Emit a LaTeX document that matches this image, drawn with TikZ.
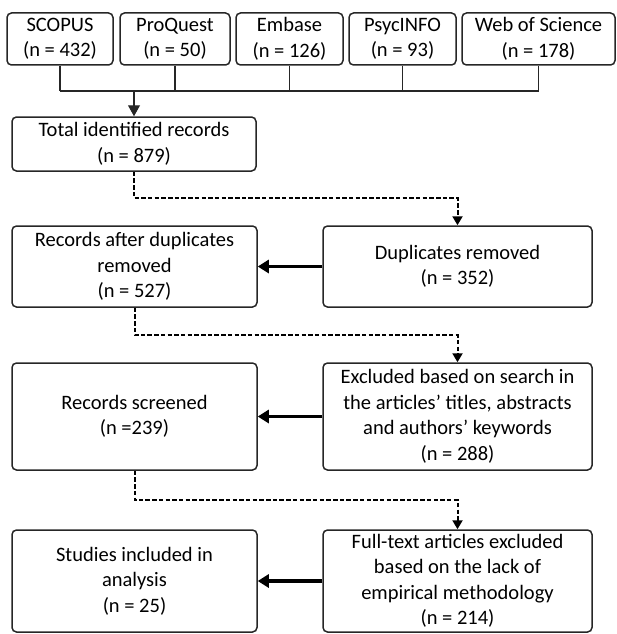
\documentclass[tikz,border=0pt]{standalone}
\usepackage{fontspec}
\setmainfont{Carlito}
\usetikzlibrary{arrows.meta}
\begin{document}
\begin{tikzpicture}[x=1pt,y=1pt,
  box/.style={draw=black!85, line width=1.5pt, rounded corners=4.5pt, align=center,
    inner sep=0pt, font=\fontsize{20.5}{25.5}\selectfont, text=black},
  thin/.style={draw=black!85, line width=1.1pt},
  dashconn/.style={draw=black, line width=2pt, dash pattern=on 4.5pt off 2.2pt,
    -{Triangle[length=9pt,width=10pt]}},
  thickarrow/.style={draw=black, line width=3.8pt, -{Triangle[length=11pt,width=13pt]}}
]
\useasboundingbox (0,0) rectangle (616,-634);
% top row
\node[box, minimum width=106, minimum height=52] (scopus) at (60,-39) {SCOPUS\\(n = 432)};
\node[box, minimum width=110, minimum height=52] (proquest) at (175,-39) {ProQuest\\(n = 50)};
\node[box, minimum width=107, minimum height=52] (embase) at (289.5,-39) {Embase\\(n = 126)};
\node[box, minimum width=107, minimum height=52] (psyc) at (402.5,-39) {PsycINFO\\(n = 93)};
\node[box, minimum width=153, minimum height=52] (wos) at (538.5,-39) {Web of Science\\(n = 178)};
% flow
\node[box, minimum width=244, minimum height=54] (total) at (134,-144) {Total identified records\\(n = 879)};
\node[box, minimum width=245, minimum height=81] (recdup) at (134.5,-266.5) {Records after duplicates\\removed\\(n = 527)};
\node[box, minimum width=269, minimum height=81] (dup) at (457.5,-266.5) {Duplicates removed\\(n = 352)};
\node[box, minimum width=245, minimum height=107] (screened) at (134.5,-416.5) {Records screened\\(n =239)};
\node[box, minimum width=269, minimum height=107] (excl) at (457.5,-416.5) {Excluded based on search in\\the articles’ titles, abstracts\\and authors’ keywords\\(n = 288)};
\node[box, minimum width=245, minimum height=102] (studies) at (134.5,-581) {Studies included in\\analysis\\(n = 25)};
\node[box, minimum width=269, minimum height=102] (full) at (457.5,-581) {Full-text articles excluded\\based on the lack of\\empirical methodology\\(n = 214)};
% bus
\coordinate (busL) at (60,-91);
\coordinate (busR) at (538.5,-91);
\draw[thin] (scopus.south) -- (scopus.south |- busL);
\draw[thin] (proquest.south) -- (proquest.south |- busL);
\draw[thin] (embase.south) -- (embase.south |- busL);
\draw[thin] (psyc.south) -- (psyc.south |- busL);
\draw[thin] (wos.south) -- (wos.south |- busL);
\draw[thin] (busL) -- (busR);
\draw[thin, -{Triangle[length=11pt,width=12pt]}] (total.north |- busL) -- (total.north);
% dashed connectors
\coordinate (m1) at (300,-198);
\coordinate (m2) at (300,-335);
\coordinate (m3) at (300,-500);
\draw[dashconn] (total.south) -- (total.south |- m1) -| (dup.north);
\draw[dashconn] (recdup.south) -- (recdup.south |- m2) -| (excl.north);
\draw[dashconn] (screened.south) -- (screened.south |- m3) -| (full.north);
% thick arrows
\draw[thickarrow] (dup.west) -- (recdup.east);
\draw[thickarrow] (excl.west) -- (screened.east);
\draw[thickarrow] (full.west) -- (studies.east);
\end{tikzpicture}
\end{document}
